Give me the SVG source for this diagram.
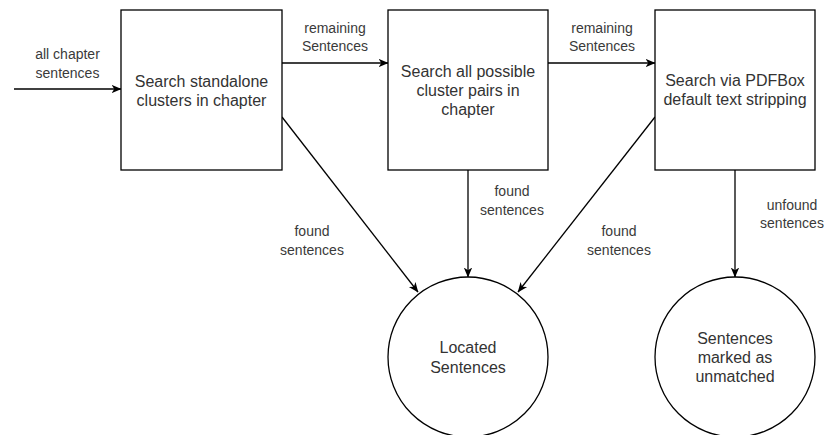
<svg xmlns="http://www.w3.org/2000/svg" width="826" height="435" viewBox="0 0 826 435">
  <style>
    .box { fill: #ffffff; stroke: #000000; stroke-width: 1.3; }
    .edge { fill: none; stroke: #000000; stroke-width: 1.3; marker-end: url(#arrow); }
    .node-text { font-family: "Liberation Sans", Arial, sans-serif; font-size: 16px; fill: #333333; text-anchor: middle; }
    .label { font-family: "Liberation Sans", Arial, sans-serif; font-size: 14px; fill: #3a3a3a; text-anchor: middle; }
  </style>
  <defs>
    <marker id="arrow" viewBox="0 0 10 10" refX="9.5" refY="5" markerWidth="10" markerHeight="10" markerUnits="userSpaceOnUse" orient="auto">
      <path d="M0,0.8 L10,5 L0,9.2 L2.8,5 Z" fill="#000000"/>
    </marker>
  </defs>
  <rect width="826" height="435" fill="#ffffff"/>

  <g id="connectors">
    <line class="edge" x1="14" y1="89" x2="121" y2="89"/>
    <line class="edge" x1="282" y1="63" x2="388" y2="63"/>
    <line class="edge" x1="548" y1="63" x2="655" y2="63"/>
    <line class="edge" x1="282" y1="117" x2="418" y2="292"/>
    <line class="edge" x1="468" y1="170" x2="468" y2="277"/>
    <line class="edge" x1="655" y1="117" x2="518" y2="292"/>
    <line class="edge" x1="735" y1="170" x2="735" y2="277"/>
    <g id="edge-labels">
      <text class="label" x="67.5" y="59">all chapter</text>
      <text class="label" x="67.5" y="78">sentences</text>
      <text class="label" x="335" y="33">remaining</text>
      <text class="label" x="335" y="51">Sentences</text>
      <text class="label" x="602" y="33">remaining</text>
      <text class="label" x="602" y="51">Sentences</text>
      <text class="label" x="312" y="236">found</text>
      <text class="label" x="312" y="255">sentences</text>
      <text class="label" x="512" y="196">found</text>
      <text class="label" x="512" y="215">sentences</text>
      <text class="label" x="619" y="236">found</text>
      <text class="label" x="619" y="255">sentences</text>
      <text class="label" x="792" y="210">unfound</text>
      <text class="label" x="792" y="228">sentences</text>
    </g>
  </g>

  <g id="search-standalone">
    <rect class="box" x="121" y="10" width="161" height="160"/>
    <text class="node-text" x="201.5" y="87">Search standalone</text>
    <text class="node-text" x="201.5" y="106">clusters in chapter</text>
  </g>

  <g id="search-pairs">
    <rect class="box" x="388" y="10" width="160" height="160"/>
    <text class="node-text" x="468" y="77">Search all possible</text>
    <text class="node-text" x="468" y="96">cluster pairs in</text>
    <text class="node-text" x="468" y="115">chapter</text>
  </g>

  <g id="search-pdfbox">
    <rect class="box" x="655" y="10" width="160" height="160"/>
    <text class="node-text" x="735" y="86">Search via PDFBox</text>
    <text class="node-text" x="735" y="105">default text stripping</text>
  </g>

  <g id="located-sentences">
    <circle class="box" cx="468" cy="357" r="80"/>
    <text class="node-text" x="468" y="353">Located</text>
    <text class="node-text" x="468" y="373">Sentences</text>
  </g>

  <g id="unmatched-sentences">
    <circle class="box" cx="735" cy="357" r="80"/>
    <text class="node-text" x="735" y="344">Sentences</text>
    <text class="node-text" x="735" y="363">marked as</text>
    <text class="node-text" x="735" y="382">unmatched</text>
  </g>
</svg>
